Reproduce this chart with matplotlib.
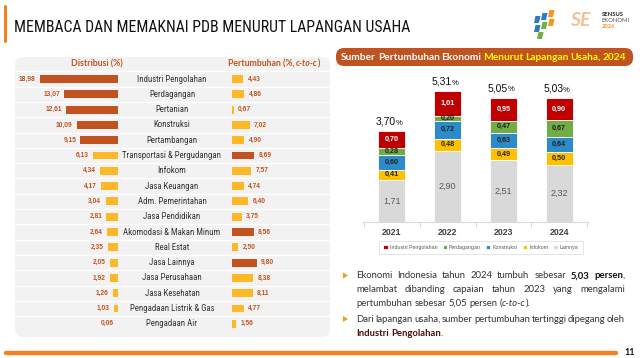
import matplotlib
matplotlib.use("Agg")
import matplotlib.pyplot as plt
import matplotlib.transforms as mtransforms
from matplotlib.patches import FancyBboxPatch, Polygon

# ---- data -------------------------------------------------------------
sectors = ["Industri Pengolahan", "Perdagangan", "Pertanian", "Konstruksi",
           "Pertambangan", "Transportasi & Pergudangan", "Infokom",
           "Jasa Keuangan", "Adm. Pemerintahan", "Jasa Pendidikan",
           "Akomodasi & Makan Minum", "Real Estat", "Jasa Lainnya",
           "Jasa Perusahaan", "Jasa Kesehatan", "Pengadaan Listrik & Gas",
           "Pengadaan Air"]
distribusi = [18.98, 13.07, 12.61, 10.09, 9.15, 6.13, 4.34, 4.17, 3.04,
              2.81, 2.64, 2.35, 2.05, 1.92, 1.26, 1.03, 0.06]
pertumbuhan = [4.43, 4.86, 0.67, 7.02, 4.90, 8.69, 7.57, 4.74, 6.40,
               3.75, 8.56, 2.50, 9.80, 8.38, 8.11, 4.77, 1.56]

years = ["2021", "2022", "2023", "2024"]
industri = [0.70, 1.01, 0.95, 0.90]
perdagangan = [0.28, 0.20, 0.47, 0.67]
konstruksi = [0.60, 0.72, 0.63, 0.64]
infokom = [0.41, 0.48, 0.49, 0.50]
lainnya = [1.71, 2.90, 2.51, 2.32]
totals = [3.70, 5.31, 5.05, 5.03]

BROWN = "#C0531F"
YELLOW = "#FDB827"
ORANGE = "#F58220"
NARROW = ["Liberation Sans", "DejaVu Sans"]
COND = ["Roboto Condensed", "DejaVu Sans Condensed", "Liberation Sans Narrow",
        "Liberation Sans", "DejaVu Sans"]
BODY = ["Lato", "DejaVu Sans"]


def fmt(v):
    return f"{v:.2f}".replace(".", ",")


W, H = 640, 358
fig = plt.figure(figsize=(6.4, 3.58), dpi=100)
bg = fig.add_axes([0, 0, 1, 1])
bg.set_xlim(0, W)
bg.set_ylim(H, 0)
bg.axis("off")
renderer = fig.canvas.get_renderer()


def px_axes(x0, y0, x1, y1):
    return fig.add_axes([x0 / W, 1 - y1 / H, (x1 - x0) / W, (y1 - y0) / H])


def width_of(s, **kw):
    t = bg.text(0, 0, s, **kw)
    w = t.get_window_extent(renderer).width
    t.remove()
    return w


def draw_words(y, x0, x1, words, justify, size):
    # words: list of lists of (text, props); justified between x0 and x1
    widths = [sum(width_of(s, fontsize=size, **p) for s, p in wd) for wd in words]
    space = width_of("a a", fontsize=size, family=BODY) - width_of("aa", fontsize=size, family=BODY)
    gap = (x1 - x0 - sum(widths)) / (len(words) - 1) if justify else space
    x = x0
    for wd in words:
        for s, p in wd:
            bg.text(x, y, s, fontsize=size, va="baseline", ha="left", **p)
            x += width_of(s, fontsize=size, **p)
        x += gap


# ---- header -------------------------------------------------------------
bg.add_patch(FancyBboxPatch((4, 5), 3, 38, boxstyle="round,pad=0,rounding_size=1.5",
                            fc=ORANGE, ec="none"))
title = "MEMBACA DAN MEMAKNAI PDB MENURUT LAPANGAN USAHA"
tsize = min(18.0, 16 * 398 / width_of(title, fontsize=16, family=COND))
bg.text(14, 32, title, fontsize=tsize, family=COND, color="#111111", va="baseline")

# logo (approximate)
for dx, dy, c in [(0, 0, "#2E7BC4"), (7, -3, "#2E7BC4"), (14, -6, "#F7941D"),
                  (0, 9, "#2E7BC4"), (7, 6, "#6DB33F"), (14, 3, "#F7941D"),
                  (3, 16, "#6DB33F")]:
    x0, y0 = 534 + dx, 16 + dy
    bg.add_patch(Polygon([(x0 + 1.5, y0), (x0 + 6.5, y0), (x0 + 5, y0 + 7), (x0, y0 + 7)],
                         fc=c, ec="none"))
bg.text(580, 21, "SE", fontsize=14, color="#F2C29B", fontweight="bold", va="center",
        ha="center", family=BODY, style="italic")
bg.text(602, 14, "SENSUS", fontsize=4.2, color="#222222", va="center", family=BODY,
        fontweight="bold")
bg.text(602, 20, "EKONOMI", fontsize=4.2, color="#555555", va="center", family=BODY)
bg.text(602, 26, "2026", fontsize=4.2, color="#F7941D", va="center", family=BODY,
        fontweight="bold")

# ---- left table ---------------------------------------------------------
bg.add_patch(FancyBboxPatch((15, 57), 315, 280, boxstyle="round,pad=0,rounding_size=8",
                            fc="#F2F2F2", ec="none"))
hp = {"family": BODY, "fontweight": "bold", "color": BROWN}
bg.text(97, 64, "Distribusi (%)", fontsize=6.3, ha="center", va="center", **hp)
hw = [("Pertumbuhan (%, ", hp), ("c-to-c", dict(hp, style="italic")), (")", hp)]
hwid = sum(width_of(s, fontsize=6.3, **p) for s, p in hw)
draw_words(66.3, 274 - hwid / 2, 0, [hw], False, 6.3)

row0, step = 79.0, 15.3
n = len(sectors)
top_px = row0 - step / 2
bot_px = row0 + (n - 0.5) * step
for i in range(n):
    y = top_px + i * step
    bg.plot([15, 330], [y, y], color="white", lw=1.0)

top_d = sorted(range(n), key=lambda k: -distribusi[k])[:5]
top_g = sorted(range(n), key=lambda k: -pertumbuhan[k])[:3]

ax_d = px_axes(30, top_px, 118, bot_px)
ax_d.set_xlim(88 / (78 / 18.98), 0)
ax_d.set_ylim(n - 0.5, -0.5)
ax_d.axis("off")
ax_d.barh(range(n), distribusi, height=0.52,
          color=[BROWN if i in top_d else YELLOW for i in range(n)])
for i, v in enumerate(distribusi):
    ax_d.annotate(fmt(v), (v, i), xytext=(-3, 0), textcoords="offset points",
                  ha="right", va="center", fontsize=4.8, color=BROWN, family=NARROW,
                  fontweight="bold")

ax_g = px_axes(232, top_px, 300, bot_px)
ax_g.set_xlim(0, 68 / 2.55)
ax_g.set_ylim(n - 0.5, -0.5)
ax_g.axis("off")
ax_g.barh(range(n), pertumbuhan, height=0.52,
          color=[BROWN if i in top_g else YELLOW for i in range(n)])
for i, v in enumerate(pertumbuhan):
    ax_g.annotate(fmt(v), (v, i), xytext=(3, 0), textcoords="offset points",
                  ha="left", va="center", fontsize=4.8, color=BROWN, family=NARROW,
                  fontweight="bold")

nsize = min(6.8, 6.0 * 98 / width_of("Transportasi & Pergudangan", fontsize=6.0, family=COND))
name_tr = mtransforms.blended_transform_factory(bg.transData, ax_d.transData)
for i, s in enumerate(sectors):
    bg.text(172, i, s, transform=name_tr, ha="center", va="center", fontsize=nsize,
            color="#333333", family=COND)

# ---- right header box ---------------------------------------------------
bg.add_patch(FancyBboxPatch((336, 48), 297, 18, boxstyle="round,pad=0,rounding_size=8",
                            fc=BROWN, ec="none"))
wp = {"family": BODY, "fontweight": "bold", "color": "white"}
yp = {"family": BODY, "fontweight": "bold", "color": "#FFFF00"}
hb = ([[(w, wp)] for w in "Sumber Pertumbuhan Ekonomi".split()]
      + [[(w, yp)] for w in "Menurut Lapangan Usaha, 2024".split()])
draw_words(60, 341, 626, hb, True, 7.3)

# ---- stacked chart ------------------------------------------------------
ax_s = px_axes(363, 80, 588, 222)
ax_s.set_xlim(-0.52, 3.52)
ax_s.set_ylim(0, 142 / 24.65)
series = [lainnya, infokom, konstruksi, perdagangan, industri]
names = ["Lainnya", "Infokom", "Konstruksi", "Perdagangan", "Industri Pengolahan"]
colors = ["#D9D9D9", "#FFC000", "#2E8BC9", "#70AD47", "#C00000"]
x = range(len(years))
bottom = [0.0] * len(years)
handles = {}
for vals, nm, c in zip(series, names, colors):
    bars = ax_s.bar(x, vals, bottom=bottom, width=0.485, color=c, edgecolor="white",
                    linewidth=0.6)
    handles[nm] = bars
    for xi, v, b in zip(x, vals, bottom):
        if nm == "Lainnya":
            ax_s.text(xi, b + v / 2, fmt(v), ha="center", va="center", fontsize=6.5,
                      color="#595959", family=NARROW)
        else:
            ax_s.text(xi, b + v / 2, fmt(v), ha="center", va="center", fontsize=5.2,
                      fontweight="bold", family=NARROW,
                      color="white" if nm == "Industri Pengolahan" else "#222222")
    bottom = [b + v for b, v in zip(bottom, vals)]
for xi, t in zip(x, totals):
    ax_s.annotate(fmt(t), (xi, t), xytext=(3, 3), textcoords="offset points",
                  ha="right", va="bottom", fontsize=7.5, family=NARROW, color="#111111")
    ax_s.annotate("%", (xi, t), xytext=(3, 3), textcoords="offset points",
                  ha="left", va="bottom", fontsize=5.5, family=NARROW, color="#111111")
for sp in ["top", "left", "right"]:
    ax_s.spines[sp].set_visible(False)
ax_s.spines["bottom"].set_color("#D9D9D9")
ax_s.set_yticks([])
ax_s.set_xticks(list(x))
ax_s.set_xticklabels(years, fontsize=6.3, color="#404040", family=NARROW,
                     fontweight="bold")
ax_s.tick_params(axis="x", which="major", length=0, pad=4)
ax_s.set_xticks([-0.5, 0.5, 1.5, 2.5, 3.5], minor=True)
ax_s.tick_params(axis="x", which="minor", length=4, color="#D9D9D9", direction="out")
ax_s.patch.set_visible(False)

leg_order = ["Industri Pengolahan", "Perdagangan", "Konstruksi", "Infokom", "Lainnya"]
leg = fig.legend([handles[k] for k in leg_order], leg_order, ncol=5, loc="center",
                 bbox_to_anchor=(481 / W, 1 - 247.5 / H), frameon=True,
                 fancybox=False, edgecolor="#D9D9D9", handlelength=0.8,
                 handleheight=0.8, handletextpad=0.4, columnspacing=1.0,
                 borderpad=0.8, prop={"family": NARROW, "size": 3.8})
leg.get_frame().set_linewidth(0.6)
for t in leg.get_texts():
    t.set_color("#595959")

# ---- bullet text --------------------------------------------------------
def words_of(text, props):
    return [[(w, props)] for w in text.split()]


R = {"family": BODY, "color": "#333333"}
B = {"family": BODY, "color": "#111111", "fontweight": "bold"}
I = {"family": BODY, "color": "#333333", "style": "italic"}
DR = {"family": BODY, "color": "#4A0E0E", "fontweight": "bold"}
TS = 6.8
lines = [
    (278.5, words_of("Ekonomi Indonesia tahun 2024 tumbuh sebesar", R)
     + [[("5,03", B)], [("persen", B), (",", R)]], True),
    (292, words_of("melambat dibanding capaian tahun 2023 yang mengalami", R), True),
    (305.5, words_of("pertumbuhan sebesar 5,05 persen", R)
     + [[("(", R), ("c-to-c", I), (").", R)]], False),
    (322, words_of("Dari lapangan usaha, sumber pertumbuhan tertinggi dipegang oleh", R), True),
    (335.5, [[("Industri", DR)], [("Pengolahan", DR), (".", R)]], False),
]
for y, wds, just in lines:
    draw_words(y, 356, 625, wds, just, TS)
for y in (275.5, 319):
    bg.add_patch(Polygon([(343, y - 3), (343, y + 3), (348, y)], fc="#F39C12", ec="none"))

# ---- footer -------------------------------------------------------------
bg.plot([6, 616], [352.5, 352.5], color=ORANGE, lw=3.2, solid_capstyle="round")
bg.text(630, 352.5, "11", fontsize=6.5, fontweight="bold", ha="center", va="center",
        color="#111111", family=BODY)

fig.savefig("out.png", dpi=100)
